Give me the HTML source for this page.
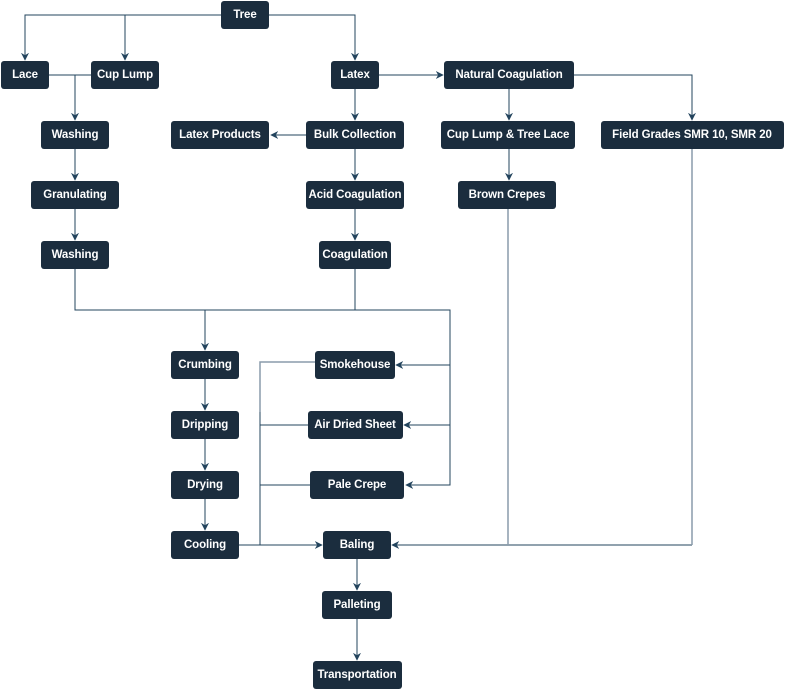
<!DOCTYPE html>
<html><head><meta charset="utf-8"><style>
html,body{margin:0;padding:0;background:#fff}
svg{display:block}
text{font-family:"Liberation Sans",sans-serif;font-size:11.5px;font-weight:bold;fill:#fff;text-anchor:middle;dominant-baseline:central;letter-spacing:-0.1px}
.l{stroke:#23445d;stroke-width:1;fill:none}
.g{stroke:#8a9bab;stroke-width:1.5;fill:none}
</style></head><body>
<svg width="786" height="691" viewBox="0 0 786 691" xmlns="http://www.w3.org/2000/svg">
<defs><marker id="a" viewBox="0 0 10 10" refX="9" refY="5" markerWidth="8" markerHeight="8" orient="auto" markerUnits="userSpaceOnUse"><path d="M0,0 L10,5 L0,10 L3,5 Z" fill="#23445d"/></marker></defs>
<g class="l">
<path d="M221,15H25V60" marker-end="url(#a)"/>
<path d="M125,15V60" marker-end="url(#a)"/>
<path d="M269,15H355V60" marker-end="url(#a)"/>
<path d="M49,75H91"/>
<path d="M75,75V120" marker-end="url(#a)"/>
<path d="M75,149V180" marker-end="url(#a)"/>
<path d="M75,209V240" marker-end="url(#a)"/>
<path d="M379,75H443" marker-end="url(#a)"/>
<path d="M574,75H692V120" marker-end="url(#a)"/>
<path d="M509,89V120" marker-end="url(#a)"/>
<path d="M509,149V180" marker-end="url(#a)"/>
<path d="M355,89V120" marker-end="url(#a)"/>
<path d="M306,135H271" marker-end="url(#a)"/>
<path d="M355,149V180" marker-end="url(#a)"/>
<path d="M355,209V240" marker-end="url(#a)"/>
<path d="M75,269V310H450V485H406" marker-end="url(#a)"/>
<path d="M355,269V310"/>
<path d="M205,310V350" marker-end="url(#a)"/>
<path d="M450,365H396" marker-end="url(#a)"/>
<path d="M450,425H404" marker-end="url(#a)"/>
<path d="M205,379V410" marker-end="url(#a)"/>
<path d="M205,439V470" marker-end="url(#a)"/>
<path d="M205,499V530" marker-end="url(#a)"/>
<path d="M239,545H322" marker-end="url(#a)"/>
<path d="M260,545V412M308,425H260M310,485H260"/>
<path d="M508,545H392" marker-end="url(#a)"/>
<path d="M692,545H508"/>
<path d="M357,559V590" marker-end="url(#a)"/>
<path d="M357,619V660" marker-end="url(#a)"/>
</g>
<g class="g">
<path d="M315,362H260V412"/>
<path d="M508,209V545"/>
<path d="M692,149V545"/>
</g>
<g fill="#1b2d3e">
<rect x="221" y="1" width="48" height="28" rx="3"/>
<rect x="1" y="61" width="48" height="28" rx="3"/>
<rect x="91" y="61" width="68" height="28" rx="3"/>
<rect x="331" y="61" width="48" height="28" rx="3"/>
<rect x="444" y="61" width="130" height="28" rx="3"/>
<rect x="41" y="121" width="68" height="28" rx="3"/>
<rect x="171" y="121" width="98" height="28" rx="3"/>
<rect x="306" y="121" width="98" height="28" rx="3"/>
<rect x="441" y="121" width="134" height="28" rx="3"/>
<rect x="601" y="121" width="183" height="28" rx="3"/>
<rect x="31" y="181" width="88" height="28" rx="3"/>
<rect x="306" y="181" width="98" height="28" rx="3"/>
<rect x="458" y="181" width="98" height="28" rx="3"/>
<rect x="41" y="241" width="68" height="28" rx="3"/>
<rect x="319" y="241" width="72" height="28" rx="3"/>
<rect x="171" y="351" width="68" height="28" rx="3"/>
<rect x="315" y="351" width="80" height="28" rx="3"/>
<rect x="171" y="411" width="68" height="28" rx="3"/>
<rect x="308" y="411" width="95" height="28" rx="3"/>
<rect x="171" y="471" width="68" height="28" rx="3"/>
<rect x="310" y="471" width="94" height="28" rx="3"/>
<rect x="171" y="531" width="68" height="28" rx="3"/>
<rect x="323" y="531" width="68" height="28" rx="3"/>
<rect x="322" y="591" width="70" height="28" rx="3"/>
<rect x="313" y="661" width="89" height="28" rx="3"/>
</g>
<text x="245" y="15">Tree</text>
<text x="25" y="75">Lace</text>
<text x="125" y="75">Cup Lump</text>
<text x="355" y="75">Latex</text>
<text x="509" y="75">Natural Coagulation</text>
<text x="75" y="135">Washing</text>
<text x="220" y="135">Latex Products</text>
<text x="355" y="135">Bulk Collection</text>
<text x="508" y="135">Cup Lump &amp; Tree Lace</text>
<text x="692" y="135">Field Grades SMR 10, SMR 20</text>
<text x="75" y="195">Granulating</text>
<text x="355" y="195">Acid Coagulation</text>
<text x="507" y="195">Brown Crepes</text>
<text x="75" y="255">Washing</text>
<text x="355" y="255">Coagulation</text>
<text x="205" y="365">Crumbing</text>
<text x="355" y="365">Smokehouse</text>
<text x="205" y="425">Dripping</text>
<text x="355" y="425">Air Dried Sheet</text>
<text x="205" y="485">Drying</text>
<text x="357" y="485">Pale Crepe</text>
<text x="205" y="545">Cooling</text>
<text x="357" y="545">Baling</text>
<text x="357" y="605">Palleting</text>
<text x="357" y="675">Transportation</text>
</svg>
</body></html>
